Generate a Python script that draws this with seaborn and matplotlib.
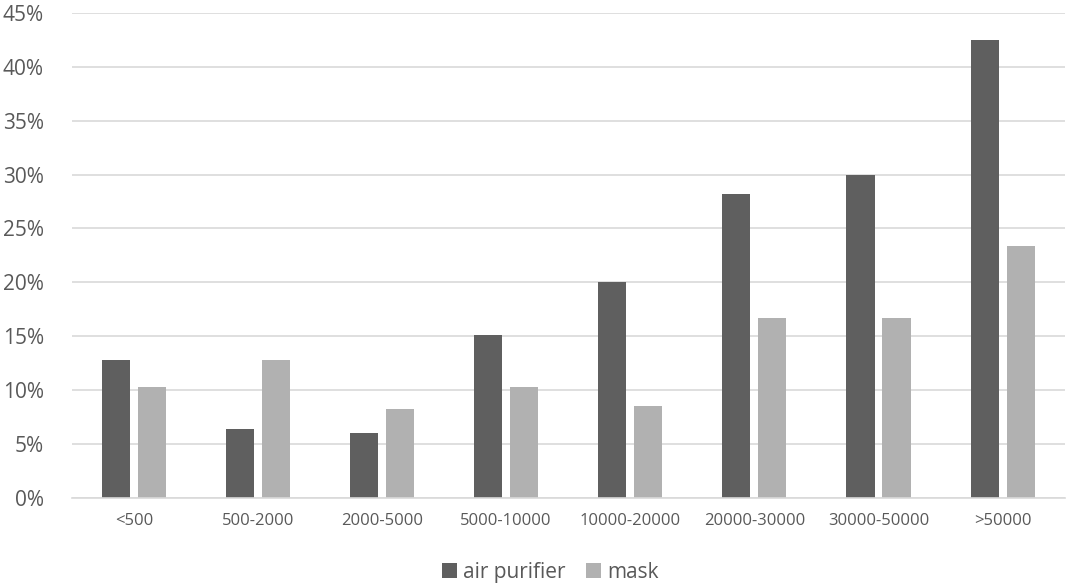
import matplotlib
matplotlib.use('Agg')
import matplotlib.pyplot as plt
import seaborn as sns
import pandas as pd
from matplotlib.ticker import PercentFormatter

categories = ['<500', '500-2000', '2000-5000', '5000-10000', '10000-20000',
              '20000-30000', '30000-50000', '>50000']
air_purifier = [12.8, 6.4, 6.0, 15.1, 20.0, 28.2, 30.0, 42.5]
mask = [10.3, 12.8, 8.2, 10.3, 8.5, 16.7, 16.7, 23.4]

df = pd.DataFrame({
    'range': categories * 2,
    'value': air_purifier + mask,
    'item': ['air purifier'] * len(categories) + ['mask'] * len(categories),
})

sns.set_style('white')
plt.rcParams['font.family'] = ['Open Sans', 'DejaVu Sans']
text_color = '#595959'

fig = plt.figure(figsize=(10.7, 5.83), dpi=100)
ax = fig.add_axes([0.067, 0.146, 0.928, 0.832])

sns.barplot(data=df, x='range', y='value', hue='item', order=categories,
            palette=['#5f5f5f', '#b1b1b1'], width=0.58, gap=0.22,
            saturation=1, linewidth=0, ax=ax)

ax.set_ylim(0, 45)
ax.set_yticks(range(0, 46, 5))
ax.yaxis.set_major_formatter(PercentFormatter(decimals=0))
ax.set_xlim(-0.5, len(categories) - 0.5)
ax.grid(axis='y', color='#d9d9d9', linewidth=1.2)
ax.set_axisbelow(True)
for s in ['top', 'right', 'left']:
    ax.spines[s].set_visible(False)
ax.spines['bottom'].set_color('#d9d9d9')
ax.spines['bottom'].set_linewidth(1.2)
ax.tick_params(axis='y', labelsize=15, colors=text_color, length=0, pad=20)
ax.tick_params(axis='x', labelsize=12, colors=text_color, length=0, pad=11)
ax.set_xlabel('')
ax.set_ylabel('')

ax.legend(loc='center', bbox_to_anchor=(0.482, -0.153), ncol=2, frameon=False,
          fontsize=15, handlelength=0.7, handleheight=0.7, handletextpad=0.3,
          columnspacing=1.0, labelcolor=text_color, borderpad=0)

fig.savefig('out.png', dpi=100)
